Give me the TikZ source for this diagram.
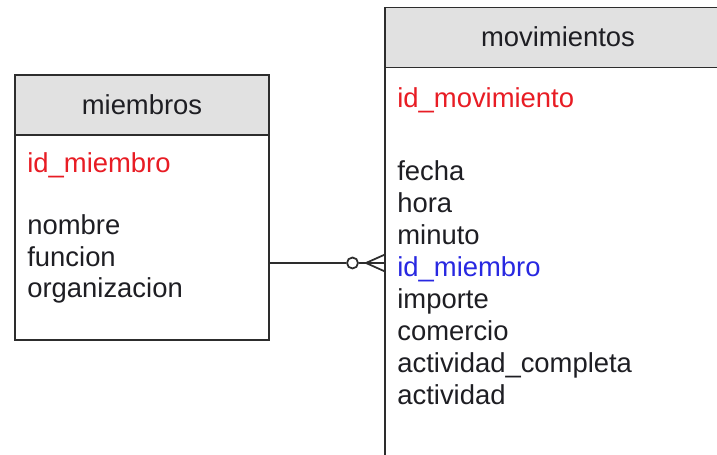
\documentclass[tikz,border=0pt]{standalone}
\usepackage{fontspec}
\setmainfont{Liberation Sans}
\usetikzlibrary{positioning}
\definecolor{headgray}{RGB}{225,225,225}
\definecolor{linegray}{RGB}{45,45,45}
\definecolor{textgray}{RGB}{30,30,35}
\definecolor{keyred}{RGB}{232,28,36}
\definecolor{keyblue}{RGB}{40,40,225}
\newcommand{\pkey}[1]{\textcolor{keyred}{#1}}
\newcommand{\fkey}[1]{\textcolor{keyblue}{#1}}
\tikzset{
	tablehead/.style={draw=linegray, line width=1.1pt, fill=headgray, minimum height=1.2cm, text height=1.05em, text depth=0pt, inner sep=0pt, outer sep=0pt},
	tablebody/.style={draw=linegray, line width=1.1pt, fill=white, inner sep=0pt, outer sep=0pt},
	field/.style={anchor=base west, inner sep=0pt, text=textgray},
	link/.style={draw=linegray, line width=1pt}
}
\begin{document}
\begin{tikzpicture}[font=\fontsize{15.6pt}{18pt}\selectfont, text=textgray]
		\useasboundingbox (0,0) rectangle (14.34,9.10);
		\node (miembros) [tablehead, minimum width=5.08cm] at (2.84,7.0) {miembros};
		\node (miembrosbody) [tablebody, minimum width=5.08cm, minimum height=4.1cm, below=0pt of miembros] {};
		\node (movimientos) [tablehead, minimum width=6.92cm] at (11.16,8.35) {movimientos};
		\node (movimientosbody) [tablebody, minimum width=6.92cm, minimum height=8.4cm, below=0pt of movimientos] {};
		\node (miembrospk) [field] at ([xshift=0.24cm, yshift=-0.76cm]miembrosbody.north west) 
			{\pkey{id\_miembro}};
		\foreach \f [count=\i] in {nombre, funcion, organizacion}
			\node (miembrosf\i) [field] at ([yshift={-0.61cm-\i*0.63cm}]miembrospk.base west) {\f};
		\node (movimientospk) [field] at ([xshift=0.24cm, yshift=-0.80cm]movimientosbody.north west) 
			{\pkey{id\_movimiento}};
		\foreach \f [count=\i] in {fecha, hora, minuto, \fkey{id\_miembro}, importe, comercio, actividad\_completa, actividad}
			\node (movimientosf\i) [field] at ([yshift={-0.82cm-\i*0.64cm}]movimientospk.base west) {\f};
		\coordinate (linkstart) at ([yshift=-0.51cm]miembrosbody.east);
		\coordinate (linkend) at (movimientosbody.west |- linkstart);
		\coordinate (crowfoot) at ([xshift=-0.38cm]linkend);
		\node (optional) [circle, draw=linegray, line width=1pt, fill=white, minimum size=0.22cm, inner sep=0pt] 
			at ([xshift=-0.65cm]linkend) {};
		\draw [link] (linkstart) to (optional);
		\draw [link] (optional) to (linkend);
		\draw [link] (crowfoot) to ([yshift=0.17cm]linkend);
		\draw [link] (crowfoot) to ([yshift=-0.17cm]linkend);
	\end{tikzpicture}
\end{document}
